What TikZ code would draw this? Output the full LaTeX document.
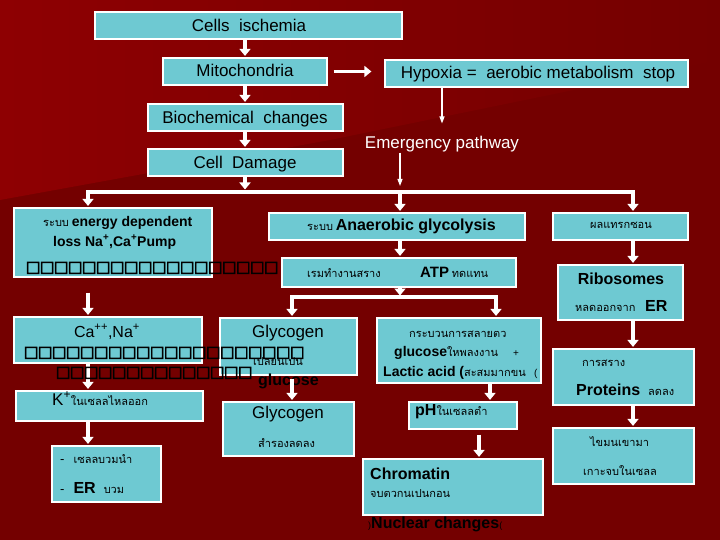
\documentclass[tikz,border=0pt]{standalone}
\usepackage{fontspec}
\setmainfont{Liberation Sans}
\newfontfamily\thaifont[Script=Thai]{Loma}
\newfontfamily\sqfont[FakeBold=4]{DejaVu Sans}
\usetikzlibrary{arrows.meta,fit}
\definecolor{bgA}{RGB}{142,0,2}
\definecolor{bgB}{RGB}{116,0,0}
\definecolor{boxc}{RGB}{110,201,210}
\newcommand\fs[1]{\fontsize{#1}{#1}\selectfont}
\newcommand\tht[1]{{\thaifont\fs{11}#1}}
\newcommand\tofu{\makebox[14pt]{\sqfont\fs{15.5}□}}
\newcommand\tofurow[1]{\foreach \k in {1,...,#1}{\tofu}}
\tikzset{
  box/.style={draw=white, line width=1.2pt, fill=boxc, inner sep=0pt},
  lc/.style={inner sep=0pt, anchor=base, text=black},
  ll/.style={inner sep=0pt, anchor=base west, text=black},
  warrow/.style={white, line width=3.6pt, -{Triangle[width=11pt,length=7pt]}, shorten >=1.5pt},
  tarrow/.style={white, line width=1.1pt, -{Triangle[width=5pt,length=7pt]}},
  bar/.style={white, line width=3.6pt}
}
\begin{document}
\begin{tikzpicture}[x=1pt,y=-1pt]
\useasboundingbox (0,0) rectangle (720,540);
\fill[bgB] (0,0) rectangle (720,540);
\shade[left color=bgA, right color=bgB] (0,0) -- (720,0) -- (720,60) -- (330,140) -- (0,200) -- cycle;

% boxes
\node[box, fit={(95,12) (402,39)}] (cells) {};
\node[box, fit={(163,58) (327,85)}] (mito) {};
\node[box, fit={(385,60) (688,87)}] (hypoxia) {};
\node[box, fit={(148,104) (343,131)}] (bio) {};
\node[box, fit={(148,149) (343,176)}] (damage) {};
\node[box, fit={(14,208) (212,277)}] (energy) {};
\node[box, fit={(269,213) (525,240)}] (anaer) {};
\node[box, fit={(282,258) (516,287)}] (atp) {};
\node[box, fit={(553,213) (688,240)}] (side) {};
\node[box, fit={(558,265) (683,320)}] (ribo) {};
\node[box, fit={(14,317) (202,363)}] (ca) {};
\node[box, fit={(220,318) (357,375)}] (glyA) {};
\node[box, fit={(223,402) (354,456)}] (glyB) {};
\node[box, fit={(16,391) (203,421)}] (kout) {};
\node[box, fit={(52,446) (161,502)}] (swell) {};
\node[box, fit={(377,318) (541,383)}] (lactic) {};
\node[box, fit={(409,402) (517,429)}] (ph) {};
\node[box, fit={(363,459) (543,515)}] (chrom) {};
\node[box, fit={(553,349) (694,405)}] (prot) {};
\node[box, fit={(553,428) (694,484)}] (fat) {};

% texts
\node[lc] (tcells) at (249,32) {\fs{17}Cells\ \ ischemia};
\node[lc] (tmito) at (245,77) {\fs{17}Mitochondria};
\node[lc] (thyp) at (538,79) {\fs{17}Hypoxia =\ \ aerobic metabolism\ \ stop};
\node[lc] (tbio) at (245,124) {\fs{17}Biochemical\ \ changes};
\node[lc] (tdam) at (245,169) {\fs{17}Cell\ \ Damage};
\node[lc, text=white] (emerg) at (442,149) {\fs{17}Emergency pathway};

\node[ll] (te1) at (43,226) {\tht{ระบบ} {\fs{14}\bfseries energy dependent}};
\node[ll] (te2) at (53,246) {\fs{14}\bfseries loss Na\textsuperscript{+},Ca\textsuperscript{+}Pump};
\node[ll] (tan) at (307,230) {\tht{ระบบ} {\fs{16}\bfseries Anaerobic glycolysis}};
\node[ll] (tatp1) at (307,277) {\tht{เรมทำงานสราง}};
\node[ll] (tatp2) at (420,277) {{\fs{15}\bfseries ATP} \tht{ทดแทน}};
\node[lc] (tside) at (621,229) {\tht{ผลแทรกซอน}};
\node[lc] (tribo) at (621,284) {\fs{16}\bfseries Ribosomes};
\node[ll] (tribo2) at (575,311) {\tht{หลดออกจาก}};
\node[ll] (ter) at (645,311) {\fs{16}\bfseries ER};

\node[lc] (tca) at (107,337) {\fs{16}Ca\textsuperscript{++},Na\textsuperscript{+}};
\node[lc] (tglyA) at (288,337) {\fs{17}Glycogen};
\node[ll] (tchg) at (253,365) {\tht{เปลยนเปน}};
\node[ll] (tgluc) at (258,385) {\fs{16}\bfseries glucose};
\node[ll] (tk) at (52,405) {{\fs{17}K\textsuperscript{+}}\tht{ในเซลลไหลออก}};
\node[lc] (tglyB) at (288,418) {\fs{17}Glycogen};
\node[ll] (tres) at (258,447) {\tht{สำรองลดลง}};
\node[ll] (tsw1) at (60,463) {{\fs{13}-}\hspace{9pt}\tht{เซลลบวมนำ}};
\node[ll] (tsw2) at (60,493) {{\fs{13}-}\hspace{9pt}{\fs{16}\bfseries ER}\hspace{8pt}\tht{บวม}};

\node[ll] (tl1) at (409,337) {\tht{กระบวนการสลายตว}};
\node[ll] (tl2) at (394,356) {{\fs{14}\bfseries glucose}\tht{ใหพลงงาน}};
\node[ll] (tplus) at (513,356) {\fs{10}+};
\node[ll] (tl3) at (383,376) {{\fs{14}\bfseries Lactic acid (}\tht{สะสมมากขน}};
\node[ll] (tpar) at (534,376) {\fs{10}(};
\node[ll] (tph) at (415,415) {{\fs{16}\bfseries pH}\tht{ในเซลลตำ}};
\node[ll] (tchr) at (370,479) {\fs{16}\bfseries Chromatin};
\node[ll] (tchr2) at (370,497) {\tht{จบตวกนเปนกอน}};
\node[ll] (tnuc) at (368,528) {{\fs{9})}{\fs{16}\bfseries Nuclear changes}{\fs{9}(}};
\node[ll] (tpr1) at (582,366) {\tht{การสราง}};
\node[ll] (tpr2) at (576,395) {\fs{16}\bfseries Proteins};
\node[ll] (tpr3) at (648,395) {\tht{ลดลง}};
\node[ll] (tfat1) at (590,446) {\tht{ไขมนเขามา}};
\node[ll] (tfat2) at (583,475) {\tht{เกาะจบในเซลล}};

% connectors
\coordinate (fL) at (88,192);
\coordinate (fM) at (400,192);
\coordinate (fR) at (633,192);
\coordinate (gL) at (292,297);
\coordinate (gM) at (400,297);
\coordinate (gR) at (496,297);

\draw[warrow] (mito.north |- cells.south) -- (mito.north);
\draw[warrow] (mito.south) -- (mito.south |- bio.north);
\draw[warrow] (mito.south |- bio.south) -- (mito.south |- damage.north);
\draw[warrow, shorten >=2.5pt] (mito.south |- damage.south) -- (mito.south |- fL);
\draw[warrow, shorten <=6pt, shorten >=13pt] (mito.east) -- (mito.east -| hypoxia.west);
\draw[tarrow, shorten >=13pt] (emerg.north |- hypoxia.south) -- (emerg.north);
\draw[tarrow, shorten >=6pt] (fM |- emerg.south) -- (fM);
\draw[bar] ([xshift=-1.8pt]fL) -- ([xshift=1.8pt]fR);
\draw[warrow] (fL) -- (fL |- energy.north);
\draw[warrow] (fM) -- (fM |- anaer.north);
\draw[warrow] (fR) -- (fR |- side.north);
\draw[warrow] (anaer.south -| fM) -- (atp.north -| fM);
\draw[warrow] (side.south -| fR) -- (ribo.north -| fR);
\draw[warrow, shorten <=15pt] (energy.south -| fL) -- (ca.north -| fL);
\draw[warrow] (atp.south -| gM) -- (gM);
\draw[bar] ([xshift=-1.8pt]gL) -- ([xshift=1.8pt]gR);
\draw[warrow] (gL) -- (gL |- glyA.north);
\draw[warrow] (gR) -- (gR |- lactic.north);
\draw[warrow] (ca.south -| fL) -- (kout.north -| fL);
\draw[warrow] (kout.south -| fL) -- (swell.north -| fL);
\draw[warrow, shorten <=3pt] (glyA.south -| gL) -- (glyB.north -| gL);
\draw[warrow] ([xshift=27pt]ph.north |- lactic.south) -- ([xshift=27pt]ph.north);
\draw[warrow, shorten <=5pt] ([xshift=16pt]ph.south) -- ([xshift=16pt]ph.south |- chrom.north);
\draw[warrow] (ribo.south -| fR) -- (prot.north -| fR);
\draw[warrow] (prot.south -| fR) -- (fat.north -| fR);

% missing-glyph rows (drawn over the boxes)
\node[ll] (sqA) at (26,272) {\tofurow{18}};
\node[ll] (sqB) at (24,357) {\tofurow{20}};
\node[ll] (sqC) at (56,377) {\tofurow{14}};
\end{tikzpicture}
\end{document}
